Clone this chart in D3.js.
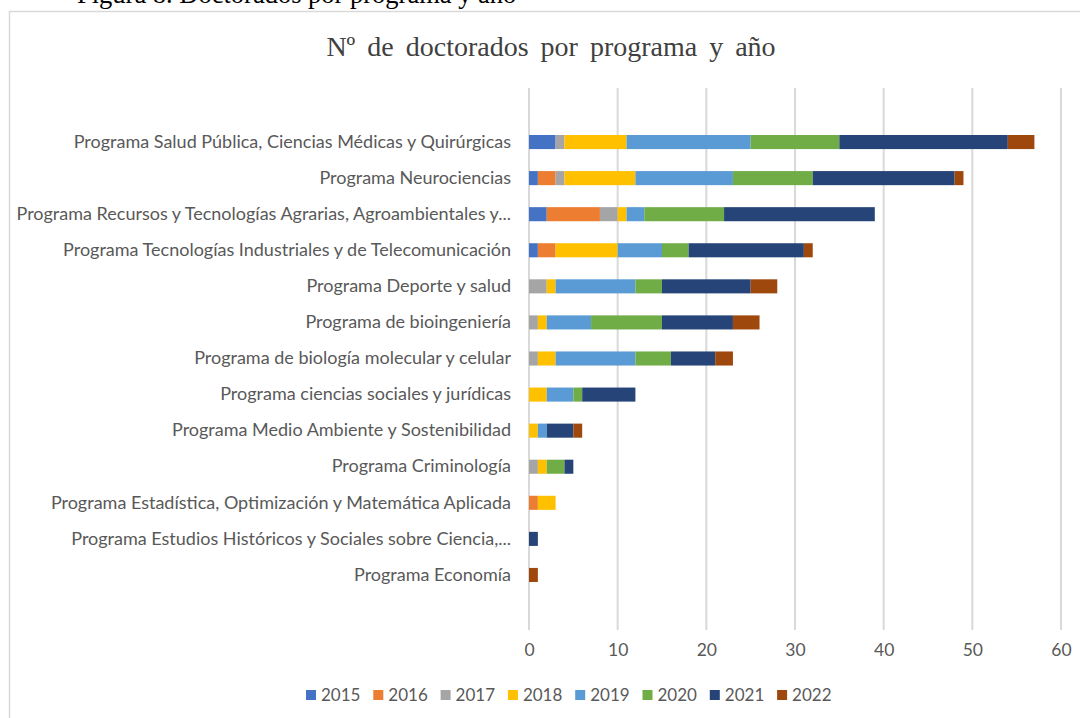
<!DOCTYPE html>
<html>
<head>
<meta charset="utf-8">
<script src="https://cdn.jsdelivr.net/npm/d3@7"></script>
<style>
  body { margin: 0; background: #fff; }
  svg { display: block; }
</style>
</head>
<body>
<div id="chart"></div>
<script>
const programs = [
  "Programa Salud Pública, Ciencias Médicas y Quirúrgicas",
  "Programa Neurociencias",
  "Programa Recursos y Tecnologías Agrarias, Agroambientales y...",
  "Programa Tecnologías Industriales y de Telecomunicación",
  "Programa Deporte y salud",
  "Programa de bioingeniería",
  "Programa de biología molecular y celular",
  "Programa ciencias sociales y jurídicas",
  "Programa Medio Ambiente y Sostenibilidad",
  "Programa Criminología",
  "Programa Estadística, Optimización y Matemática Aplicada",
  "Programa Estudios Históricos y Sociales sobre Ciencia,...",
  "Programa Economía"
];
const years = ["2015", "2016", "2017", "2018", "2019", "2020", "2021", "2022"];

// one array per year, in the same order as programs
const y2015 = [3, 1, 2, 1, 0, 0, 0, 0, 0, 0, 0, 0, 0];
const y2016 = [0, 2, 6, 2, 0, 0, 0, 0, 0, 0, 1, 0, 0];
const y2017 = [1, 1, 2, 0, 2, 1, 1, 0, 0, 1, 0, 0, 0];
const y2018 = [7, 8, 1, 7, 1, 1, 2, 2, 1, 1, 2, 0, 0];
const y2019 = [14, 11, 2, 5, 9, 5, 9, 3, 1, 0, 0, 0, 0];
const y2020 = [10, 9, 9, 3, 3, 8, 4, 1, 0, 2, 0, 0, 0];
const y2021 = [19, 16, 17, 13, 10, 8, 5, 6, 3, 1, 0, 1, 0];
const y2022 = [3, 1, 0, 1, 3, 3, 2, 0, 1, 0, 0, 0, 1];
const xTicks = [0, 10, 20, 30, 40, 50, 60];

const colors = ["#4472C4", "#ED7D31", "#A5A5A5", "#FFC000", "#5B9BD5", "#70AD47", "#264478", "#9E480E"];

const series = [y2015, y2016, y2017, y2018, y2019, y2020, y2021, y2022];
const table = programs.map((p, i) => {
  const row = { program: p };
  years.forEach((yr, k) => (row[yr] = series[k][i]));
  return row;
});

const width = 1080, height = 718;
const labelFont = "Lato, Open Sans, sans-serif";

const svg = d3.select("#chart").append("svg")
  .attr("width", width)
  .attr("height", height);

// caption above the chart box (cut by the page edge)
svg.append("text")
  .attr("x", 77)
  .attr("y", 3)
  .attr("font-family", "Liberation Serif, Times New Roman, serif")
  .attr("font-size", 26.5)
  .attr("fill", "#000")
  .text("Figura 8. Doctorados por programa y año");

// chart box
svg.append("rect")
  .attr("x", 9.5)
  .attr("y", 11.5)
  .attr("width", 1100)
  .attr("height", 800)
  .attr("fill", "#fff")
  .attr("stroke", "#d9d9d9")
  .attr("stroke-width", 1.5);

svg.append("text")
  .attr("x", 551)
  .attr("y", 56)
  .attr("text-anchor", "middle")
  .attr("font-family", "Liberation Serif, Times New Roman, serif")
  .attr("font-size", 28)
  .attr("word-spacing", 5)
  .attr("fill", "#404040")
  .text("Nº de doctorados por programa y año");

const x = d3.scaleLinear().domain([0, 60]).range([529, 1061]);
const y = d3.scaleBand().domain(programs).range([124, 593]).paddingInner(0.61).paddingOuter(0.305);

const gridTop = 88, gridBottom = 630;

svg.append("g")
  .selectAll("line")
  .data(xTicks)
  .join("line")
  .attr("x1", d => x(d))
  .attr("x2", d => x(d))
  .attr("y1", gridTop)
  .attr("y2", gridBottom)
  .attr("stroke", "#d9d9d9")
  .attr("stroke-width", 2);

const stack = d3.stack().keys(years)(table);

svg.append("g")
  .selectAll("g")
  .data(stack)
  .join("g")
  .attr("fill", (d, i) => colors[i])
  .selectAll("rect")
  .data(d => d.filter(s => s[1] > s[0]))
  .join("rect")
  .attr("x", d => x(d[0]))
  .attr("y", d => y(d.data.program))
  .attr("width", d => x(d[1]) - x(d[0]))
  .attr("height", y.bandwidth());

// x axis labels
const xAxis = svg.append("g")
  .attr("transform", `translate(0,${gridBottom})`)
  .call(d3.axisBottom(x).tickValues(xTicks).tickSize(0).tickPadding(14));
xAxis.select(".domain").remove();
xAxis.selectAll("text")
  .attr("font-family", labelFont)
  .attr("font-size", 17.5)
  .attr("fill", "#595959");

// category labels
const yAxis = svg.append("g")
  .attr("transform", `translate(${x(0)},0)`)
  .call(d3.axisLeft(y).tickSize(0).tickPadding(18));
yAxis.select(".domain").remove();
yAxis.selectAll("text")
  .attr("font-family", labelFont)
  .attr("font-size", 18)
  .attr("fill", "#595959");

// legend
const legend = svg.append("g")
  .attr("transform", "translate(306,695)");
const item = legend.selectAll("g")
  .data(years)
  .join("g")
  .attr("transform", (d, i) => `translate(${i * 67.3},0)`);
item.append("rect")
  .attr("x", 0)
  .attr("y", -5)
  .attr("width", 10)
  .attr("height", 10)
  .attr("fill", (d, i) => colors[i]);
item.append("text")
  .attr("x", 15)
  .attr("y", 0)
  .attr("dy", "0.35em")
  .attr("font-family", labelFont)
  .attr("font-size", 17)
  .attr("fill", "#595959")
  .text(d => d);
</script>
</body>
</html>
